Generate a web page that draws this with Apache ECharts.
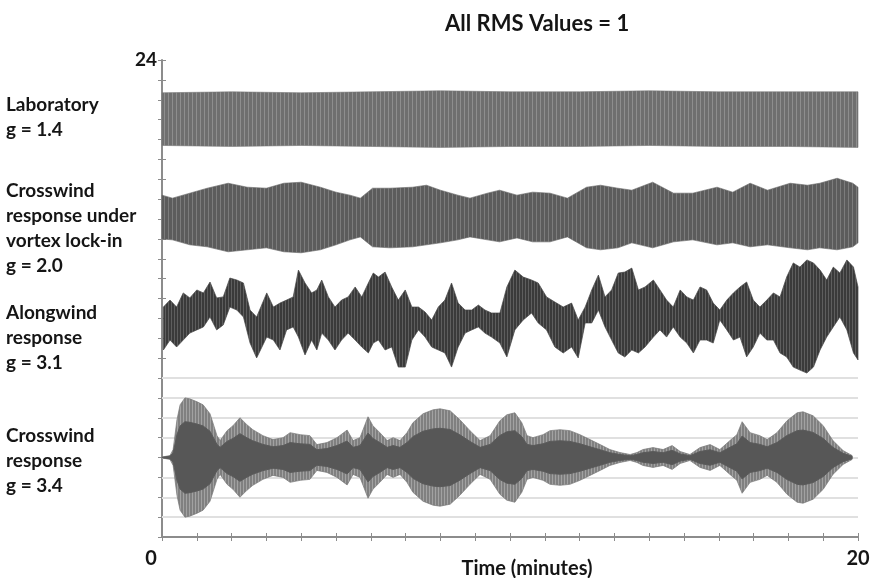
<!DOCTYPE html>
<html>
<head>
<meta charset="utf-8">
<title>All RMS Values = 1</title>
<script src="https://cdn.jsdelivr.net/npm/echarts@6/dist/echarts.min.js"></script>
<style>
  html, body { margin: 0; padding: 0; background: #fff; }
  #chart { width: 871px; height: 578px; }
</style>
</head>
<body>
<div id="chart"></div>
<script>
// axis labels that are actually printed
const xLabelsShown = [0, 20];
const yLabelsShown = [24];
const gridValues = [1, 2, 3, 4, 5, 6, 7, 8];

// Laboratory, g = 1.4 (band edges)
const labT  = [0, 2, 4, 6, 8, 10, 12, 14, 16, 18, 20];
const labHi = [22.35, 22.4, 22.35, 22.4, 22.45, 22.4, 22.4, 22.45, 22.4, 22.4, 22.4];
const labLo = [19.7, 19.65, 19.7, 19.65, 19.6, 19.65, 19.65, 19.7, 19.65, 19.65, 19.6];

// Crosswind response under vortex lock-in, g = 2.0
const lockT  = [0, 0.3, 0.8, 1.3, 1.9, 2.45, 3.0, 3.5, 4.0, 4.55, 5.0, 5.4, 5.7, 6.05, 6.55, 7.2, 7.6, 8.0, 8.5, 8.85,
                9.35, 9.7, 10.2, 10.65, 11.15, 11.65, 12.2, 12.6, 13.1, 13.5, 14.1, 14.7, 15.25, 15.95, 16.4, 16.9, 17.4, 18.05, 18.55, 18.9,
                19.4, 19.85, 20];
const lockHi = [17.2, 17.05, 17.3, 17.55, 17.8, 17.6, 17.55, 17.8, 17.85, 17.6, 17.35, 17.2, 17.05, 17.55, 17.55, 17.6, 17.7, 17.45, 17.2, 17.05,
                17.3, 17.45, 17.2, 17.35, 17.3, 17.05, 17.6, 17.7, 17.55, 17.45, 17.85, 17.3, 17.3, 17.6, 17.35, 17.8, 17.45, 17.8, 17.7, 17.8,
                18.05, 17.8, 17.6];
const lockLo = [15.0, 14.95, 14.7, 14.6, 14.35, 14.45, 14.55, 14.35, 14.3, 14.45, 14.7, 14.95, 15.1, 14.6, 14.55, 14.6, 14.7, 14.8, 14.95, 15.1,
                14.95, 14.85, 15.05, 14.85, 14.85, 15.1, 14.55, 14.45, 14.55, 14.8, 14.55, 14.85, 14.95, 14.7, 14.8, 14.6, 14.7, 14.55, 14.45, 14.55,
                14.45, 14.6, 14.8];

// Alongwind response, g = 3.1
const alongT  = [0.04, 0.23, 0.42, 0.61, 0.8, 1.0, 1.19, 1.38, 1.57, 1.76, 1.95, 2.15, 2.34, 2.53, 2.72, 3.01, 3.2, 3.39, 3.58, 3.77,
                 3.92, 4.11, 4.3, 4.45, 4.59, 4.78, 4.97, 5.16, 5.35, 5.55, 5.74, 5.93, 6.07, 6.22, 6.41, 6.6, 6.79, 6.99, 7.18, 7.37,
                 7.56, 7.75, 7.94, 8.13, 8.32, 8.51, 8.71, 8.9, 9.09, 9.28, 9.47, 9.71, 9.91, 10.14, 10.38, 10.62, 10.81, 11.05, 11.29, 11.53,
                 11.77, 11.96, 12.16, 12.35, 12.54, 12.73, 12.92, 13.11, 13.3, 13.5, 13.69, 13.88, 14.12, 14.31, 14.5, 14.69, 14.89, 15.08, 15.27, 15.46,
                 15.65, 15.84, 16.03, 16.23, 16.42, 16.61, 16.8, 16.99, 17.18, 17.38, 17.57, 17.76, 17.95, 18.14, 18.33, 18.53, 18.72, 18.91, 19.1, 19.29,
                 19.48, 19.68, 19.87, 20];
const alongHi = [11.57, 11.92, 11.57, 12.28, 12.03, 12.43, 12.28, 12.83, 12.03, 12.08, 13.03, 12.93, 12.78, 11.42, 11.07, 12.28, 11.57, 11.77, 11.92, 12.08,
                 13.43, 12.78, 12.28, 12.43, 12.93, 12.08, 11.57, 11.92, 12.08, 12.58, 12.08, 12.78, 13.28, 13.08, 13.33, 12.58, 11.92, 12.43, 11.57, 11.57,
                 11.32, 10.92, 11.57, 11.92, 12.78, 11.77, 11.42, 11.42, 11.67, 11.42, 11.27, 11.27, 12.58, 13.43, 13.08, 12.93, 12.78, 12.08, 11.82, 11.57,
                 11.77, 10.92, 11.57, 12.43, 13.18, 12.08, 12.43, 13.28, 13.33, 13.53, 12.43, 12.58, 12.93, 12.43, 11.92, 11.57, 12.43, 12.08, 11.92, 12.58,
                 12.43, 11.77, 11.42, 11.92, 12.28, 12.58, 12.83, 11.92, 11.57, 11.92, 12.28, 12.08, 13.08, 13.79, 13.58, 13.94, 13.79, 13.43, 12.93, 13.58,
                 13.28, 13.94, 13.58, 12.58];
const alongLo = [9.41, 9.91, 9.56, 9.91, 10.26, 10.42, 10.57, 11.07, 10.42, 10.67, 11.57, 11.42, 11.07, 9.76, 9.01, 10.06, 9.91, 9.41, 10.42, 10.57,
                 10.06, 9.16, 9.91, 9.41, 10.26, 9.91, 9.41, 9.91, 10.26, 9.91, 9.56, 9.26, 9.76, 9.91, 9.41, 9.56, 8.55, 8.55, 9.91, 10.42,
                 10.06, 9.56, 9.41, 9.26, 8.55, 9.56, 10.26, 10.42, 10.57, 10.26, 10.06, 9.76, 9.06, 10.42, 10.92, 11.27, 10.77, 10.42, 9.56, 9.26,
                 9.56, 9.01, 10.77, 10.77, 11.42, 10.57, 9.91, 9.26, 9.06, 9.41, 9.26, 9.56, 10.06, 10.42, 10.06, 10.57, 10.06, 9.76, 9.26, 9.91,
                 9.91, 9.76, 10.92, 10.42, 9.91, 10.06, 9.06, 9.56, 10.26, 9.91, 9.91, 9.26, 9.06, 8.55, 8.4, 8.25, 8.55, 9.41, 10.06, 10.57,
                 11.07, 10.42, 9.26, 8.91];

// Crosswind response, g = 3.4 (centre line and half-amplitude of the envelope)
const crossMid = 4;
const crossT   = [0, 0.23, 0.32, 0.43, 0.52, 0.66, 0.8, 1.01, 1.18, 1.38, 1.58, 1.67, 1.87, 2.04, 2.24, 2.44, 2.61, 2.9, 3.19, 3.48,
                  3.68, 3.97, 4.25, 4.45, 4.74, 5.03, 5.32, 5.49, 5.69, 5.92, 6.06, 6.26, 6.47, 6.64, 6.84, 7.04, 7.21, 7.5, 7.79, 7.99,
                  8.28, 8.56, 8.85, 9.14, 9.43, 9.71, 9.91, 10.14, 10.34, 10.49, 10.66, 10.95, 11.15, 11.44, 11.72, 12.01, 12.3, 12.59, 12.87, 13.16,
                  13.45, 13.65, 13.82, 14.11, 14.4, 14.66, 14.89, 15.17, 15.46, 15.75, 16.03, 16.32, 16.52, 16.67, 16.9, 17.18, 17.39, 17.67, 17.96, 18.25,
                  18.42, 18.71, 19.0, 19.28, 19.57, 19.83];
const crossAmp = [0.02, 0.1, 0.4, 1.9, 2.65, 3.0, 2.95, 2.8, 2.65, 2.2, 1.1, 0.85, 1.35, 1.6, 2.0, 1.65, 1.4, 1.1, 0.9, 1.0,
                  1.25, 1.15, 1.1, 0.65, 0.75, 1.0, 1.38, 0.85, 1.0, 2.05, 1.6, 1.25, 0.85, 1.0, 0.85, 1.25, 1.75, 2.2, 2.4, 2.45,
                  2.35, 1.9, 1.35, 0.85, 1.1, 1.85, 2.15, 2.25, 1.75, 1.1, 1.0, 1.15, 1.35, 1.4, 1.35, 1.15, 0.9, 0.65, 0.4, 0.25,
                  0.15, 0.25, 0.4, 0.5, 0.4, 0.6, 0.3, 0.15, 0.5, 0.65, 0.4, 0.85, 1.15, 1.8, 1.25, 1.1, 0.9, 1.25, 1.85, 2.25,
                  2.3, 2.1, 1.6, 0.85, 0.35, 0.1];

const sideLabels = [
  ['Laboratory', 'g = 1.4'],
  ['Crosswind', 'response under', 'vortex lock-in', 'g = 2.0'],
  ['Alongwind', 'response', 'g = 3.1'],
  ['Crosswind', 'response', 'g = 3.4']
];
const sideLabelTop = [107, 193, 315, 438];

// vertical stripe pattern: the look of a densely oscillating trace
function stripes(dark, light, period) {
  const c = document.createElement('canvas');
  c.width = period; c.height = 4;
  const g = c.getContext('2d');
  g.fillStyle = dark; g.fillRect(0, 0, period, 4);
  g.fillStyle = light; g.fillRect(0, 0, 1, 4);
  return { image: c, repeat: 'repeat' };
}

// one filled polygon between the lo and hi edges of a band
function band(t, lo, hi, fill, stroke, z) {
  return {
    type: 'custom',
    coordinateSystem: 'cartesian2d',
    silent: true,
    z: z,
    data: t.map((v, i) => [v, lo[i], hi[i]]),
    encode: { x: 0, y: [1, 2] },
    renderItem: (params, api) => {
      if (params.dataIndexInside !== 0) return null;
      const n = params.dataInsideLength;
      const top = [], bot = [];
      for (let i = 0; i < n; i++) {
        top.push(api.coord([api.value(0, i), api.value(2, i)]));
        bot.push(api.coord([api.value(0, i), api.value(1, i)]));
      }
      return {
        type: 'polygon',
        shape: { points: top.concat(bot.reverse()) },
        style: { fill: fill, stroke: stroke, lineWidth: 1 }
      };
    }
  };
}

const crossHi = crossAmp.map(a => crossMid + a);
const crossLo = crossAmp.map(a => crossMid - a);
// darker inner part of the crosswind trace, same envelope scaled toward the centre
const coreShare = 0.6;
const crossCoreHi = crossAmp.map(a => crossMid + a * coreShare);
const crossCoreLo = crossAmp.map(a => crossMid - a * coreShare);

const textFont = 'Lato, "Open Sans", sans-serif';
const axisGray = '#8c8c8c';
const ink = '#151515';

const graphics = [];
sideLabels.forEach((lines, k) => {
  lines.forEach((s, j) => {
    graphics.push({
      type: 'text', left: 6, top: sideLabelTop[k] + j * 25 - 12,
      style: { text: s, font: 'bold 19px ' + textFont, fill: ink }
    });
  });
});

const chart = echarts.init(document.getElementById('chart'), null, { renderer: 'canvas' });
chart.setOption({
  animation: false,
  title: {
    text: 'All RMS Values = 1',
    left: 440, top: 8,
    textStyle: { fontFamily: textFont, fontWeight: 'bold', fontSize: 22, color: ink }
  },
  grid: { left: 162, right: 13, top: 60, bottom: 41, outerBoundsMode: 'none' },
  graphic: graphics,
  xAxis: [{
    type: 'value', min: 0, max: 20, interval: 1,
    name: 'Time (minutes)', nameLocation: 'middle', nameGap: 22, nameMoveOverlap: false,
    nameTextStyle: { fontFamily: textFont, fontWeight: 'bold', fontSize: 20, color: ink, padding: [0, 0, 0, 34] },
    axisLine: { onZero: false, lineStyle: { color: axisGray, width: 2 } },
    axisTick: { length: 4, lineStyle: { color: axisGray } },
    axisLabel: {
      margin: 12,
      formatter: v => xLabelsShown.includes(v) ? (v === 0 ? '{z|' + v + '}' : '{n|' + v + '}') : '',
      rich: {
        z: { fontFamily: textFont, fontWeight: 'bold', fontSize: 20, color: ink, padding: [0, 22, 0, 0] },
        n: { fontFamily: textFont, fontWeight: 'bold', fontSize: 20, color: ink }
      }
    },
    splitLine: { show: false }
  }, {
    type: 'value', min: 0, max: 20, interval: 1, position: 'bottom',
    axisLine: { show: false },
    axisTick: { inside: true, length: 4, lineStyle: { color: axisGray } },
    axisLabel: { show: false },
    splitLine: { show: false }
  }],
  yAxis: [{
    type: 'value', min: 0, max: 24, interval: 1,
    axisLine: { show: true, lineStyle: { color: axisGray, width: 2 } },
    axisTick: { show: true, length: 4, lineStyle: { color: axisGray } },
    axisLabel: {
      margin: 5,
      formatter: v => yLabelsShown.includes(v) ? String(v) : '',
      fontFamily: textFont, fontWeight: 'bold', fontSize: 19, color: ink
    },
    splitLine: { show: false }
  }, {
    type: 'value', min: 0, max: 24, interval: 1, position: 'left',
    axisLine: { show: false },
    axisTick: { show: true, inside: true, length: 4, lineStyle: { color: axisGray } },
    axisLabel: { show: false },
    splitLine: { show: false }
  }],
  series: [
    {
      type: 'line', data: [], z: 1, silent: true,
      markLine: {
        silent: true, symbol: 'none', label: { show: false }, z: 1,
        lineStyle: { color: '#e0e0e0', width: 2, type: 'solid' },
        data: gridValues.map(v => ({ yAxis: v }))
      }
    },
    band(labT, labLo, labHi, stripes('#6f6f6f', '#8e8e8e', 4), 'rgba(120,120,120,0.6)', 3),
    band(lockT, lockLo, lockHi, stripes('#5c5c5c', '#7c7c7c', 4), 'rgba(100,100,100,0.6)', 3),
    band(alongT, alongLo, alongHi, stripes('#3a3a3a', '#5e5e5e', 3), 'rgba(70,70,70,0.7)', 3),
    band(crossT, crossLo, crossHi, stripes('#808080', '#a2a2a2', 3), 'rgba(120,120,120,0.7)', 3),
    band(crossT, crossCoreLo, crossCoreHi, '#575757', '#5a5a5a', 4)
  ]
});
</script>
</body>
</html>
